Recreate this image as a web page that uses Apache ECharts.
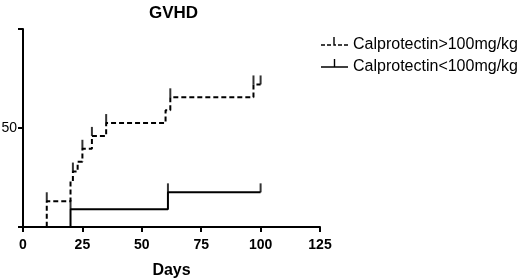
<!DOCTYPE html>
<html>
<head>
<meta charset="utf-8">
<script src="https://cdn.jsdelivr.net/npm/echarts@6/dist/echarts.min.js"></script>
<style>
  html, body { margin: 0; padding: 0; background: #fff; }
  #chart { width: 520px; height: 280px; }
</style>
</head>
<body>
<div id="chart"></div>
<script>
// 读图估计的数据 (cumulative incidence, %)
var seriesNames = ['Calprotectin>100mg/kg', 'Calprotectin<100mg/kg'];
var highDays = [0, 10, 20, 21, 23, 25, 29, 35, 60, 62, 97, 100];
var highVals = [0, 13, 23, 28, 33, 39.5, 46, 52.5, 59, 65.5, 72, 72];
var highCensorDays = [10, 21, 25, 29, 35, 62, 97, 100];
var lowDays = [0, 20, 61, 100];
var lowVals = [0, 9, 17.5, 17.5];
var lowCensorDays = [20, 61, 100];
var xTicks = [0, 25, 50, 75, 100, 125];
var yTickLabels = ['50'];

function pairs(d, v) {
  var out = [];
  for (var i = 0; i < d.length; i++) out.push([d[i], v[i]]);
  return out;
}
// censor mark sits on the level of the curve at that day
function censor(cd, d, v) {
  var out = [];
  for (var i = 0; i < cd.length; i++) {
    var y = 0;
    for (var j = 0; j < d.length; j++) if (d[j] <= cd[i]) y = v[j];
    out.push([cd[i], y]);
  }
  return out;
}

var iconDashed = 'path://M0 16L0 16M0 7.3H4V8.7H0ZM6 7.3H10V8.7H6ZM12.3 0H13.7V8.7H12.3ZM13.7 7.3H15V8.7H13.7ZM17 7.3H21V8.7H17ZM23 7.3H27V8.7H23Z';
var iconSolid = 'path://M0 16L0 16M0 7.3H27V8.7H0ZM12.8 0H14.2V8H12.8Z';

var myChart = echarts.init(document.getElementById('chart'));
var option = {
  animation: false,
  backgroundColor: '#fff',
  title: {
    text: 'GVHD',
    left: 144,
    top: 0,
    textStyle: { fontFamily: 'Liberation Sans', fontSize: 17, fontWeight: 'bold', color: '#000' }
  },
  legend: {
    left: 321,
    top: 37,
    padding: 0,
    orient: 'vertical',
    itemWidth: 27,
    itemHeight: 16,
    itemGap: 6,
    data: [
      { name: seriesNames[0], icon: iconDashed },
      { name: seriesNames[1], icon: iconSolid }
    ],
    itemStyle: { color: '#000' },
    textStyle: { fontFamily: 'Liberation Sans', fontSize: 16, color: '#000' }
  },
  grid: { left: 23, right: 200, top: 29, bottom: 53, outerBoundsMode: 'none' },
  xAxis: {
    type: 'value',
    min: 0,
    max: 125,
    interval: 25,
    name: 'Days',
    nameLocation: 'middle',
    nameGap: 36,
    nameTextStyle: { fontFamily: 'Liberation Sans', fontSize: 16, fontWeight: 'bold', color: '#000' },
    splitLine: { show: false },
    axisLine: { lineStyle: { color: '#000', width: 2 } },
    axisTick: { length: 5, lineStyle: { color: '#000', width: 2 } },
    axisLabel: {
      margin: 11,
      fontFamily: 'Liberation Sans', fontSize: 14, fontWeight: 'bold', color: '#000',
      formatter: function (v) { return xTicks.indexOf(v) >= 0 ? String(v) : ''; }
    }
  },
  yAxis: {
    type: 'value',
    min: 0,
    max: 100,
    interval: 50,
    splitLine: { show: false },
    axisLine: { show: true, lineStyle: { color: '#000', width: 2 } },
    axisTick: { show: true, length: 5, lineStyle: { color: '#000', width: 2 } },
    axisLabel: {
      margin: 6,
      fontFamily: 'Liberation Sans', fontSize: 14, color: '#000',
      formatter: function (v) { return yTickLabels.indexOf(String(v)) >= 0 ? String(v) : ''; }
    }
  },
  series: [
    {
      name: seriesNames[0],
      type: 'line',
      step: 'end',
      symbol: 'none',
      data: pairs(highDays, highVals),
      lineStyle: { color: '#000', width: 2, type: [5, 3] },
      itemStyle: { color: '#000' }
    },
    {
      name: seriesNames[1],
      type: 'line',
      step: 'end',
      symbol: 'none',
      data: pairs(lowDays, lowVals),
      lineStyle: { color: '#000', width: 2 },
      itemStyle: { color: '#000' }
    },
    {
      name: 'censorHigh',
      type: 'scatter',
      symbol: 'rect',
      symbolSize: [2, 9],
      symbolOffset: [0, '-50%'],
      itemStyle: { color: '#000' },
      data: censor(highCensorDays, highDays, highVals)
    },
    {
      name: 'censorLow',
      type: 'scatter',
      symbol: 'rect',
      symbolSize: [2, 9],
      symbolOffset: [0, '-50%'],
      itemStyle: { color: '#000' },
      data: censor(lowCensorDays, lowDays, lowVals)
    }
  ]
};
myChart.setOption(option);
</script>
</body>
</html>
